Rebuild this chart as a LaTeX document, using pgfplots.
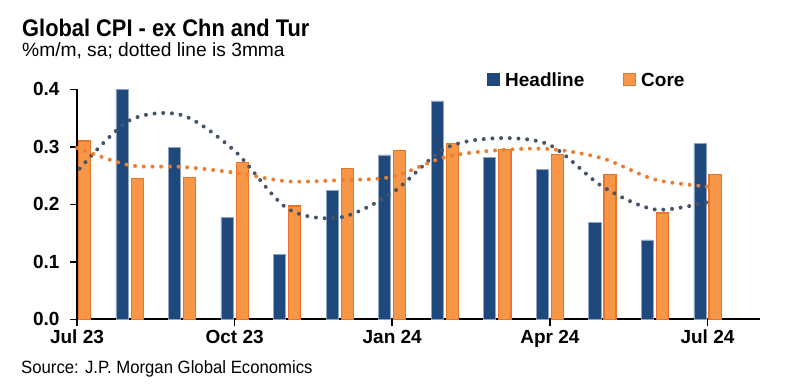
\documentclass[border=0pt]{standalone}
\usepackage{fontspec}
\setmainfont{Liberation Sans}
\usepackage{pgfplots}
\pgfplotsset{compat=1.18}
\definecolor{hblue}{RGB}{31,73,125}
\definecolor{corg}{RGB}{247,150,70}
\definecolor{corgd}{RGB}{233,118,40}
\definecolor{hdot}{RGB}{68,84,106}
\definecolor{cdot}{RGB}{237,125,49}
\begin{document}
\begin{tikzpicture}[x=1bp,y=1bp]
\useasboundingbox (0,0) rectangle (805,383);
\begin{axis}[
  at={(77bp,63.7bp)}, anchor=south west,
  scale only axis, width=683bp, height=230bp,
  xmin=0, xmax=13, ymin=0, ymax=0.4,
  axis x line*=bottom, axis y line*=left,
  axis line style={-, line width=1.8bp, black},
  xtick={0,3,6,9,12},
  xticklabels={Jul 23,Oct 23,Jan 24,Apr 24,Jul 24},
  ytick={0,0.1,0.2,0.3,0.4},
  /pgf/number format/assume math mode=true,
  yticklabel style={/pgf/number format/.cd, fixed, fixed zerofill, precision=1, /tikz/.cd, xshift=-7bp},
  tick label style={font=\fontsize{19bp}{22bp}\selectfont\bfseries},
  tick align=outside, major tick length=7bp,
  tick style={black, line width=1.5bp},
  clip=false,
]
\addplot[ybar, bar width=0.23, bar shift=-0.145, fill=hblue, draw=hblue!50!white, line width=0.5bp]
  coordinates {(1,0.400) (2,0.299) (3,0.177) (4,0.113) (5,0.224) (6,0.286) (7,0.380) (8,0.282) (9,0.261) (10,0.169) (11,0.138) (12,0.306)};
\addplot[ybar, bar width=0.23, bar shift=0.145, fill=corg, draw=corgd, line width=1.2bp]
  coordinates {(0,0.310) (1,0.245) (2,0.247) (3,0.273) (4,0.197) (5,0.262) (6,0.293) (7,0.306) (8,0.295) (9,0.287) (10,0.252) (11,0.185) (12,0.252)};
\addplot[hdot, line width=4bp, dash pattern=on 0bp off 8.7bp, line cap=round, smooth]
  coordinates {(0.05,0.262) (1,0.346) (2,0.355) (3,0.293) (4,0.193) (5,0.177) (6,0.220) (7,0.297) (8,0.315) (9,0.303) (10,0.231) (11,0.191) (12,0.204)};
\addplot[cdot, line width=4bp, dash pattern=on 0bp off 8.7bp, line cap=round, smooth]
  coordinates {(0,0.298) (1,0.268) (2,0.265) (3,0.255) (4,0.240) (5,0.242) (6,0.248) (7,0.282) (8,0.294) (9,0.296) (10,0.280) (11,0.243) (12,0.231)};
\end{axis}
\node[anchor=base west, inner sep=0] at (22,347) {\scalebox{0.91}[1]{\fontsize{24bp}{28bp}\selectfont\bfseries Global CPI - ex Chn and Tur}};
\node[anchor=base west, inner sep=0] at (22,327) {\fontsize{19.2bp}{23bp}\selectfont \%m/m, sa; dotted line is 3mma};
\node[anchor=base west, inner sep=0] at (21,10) {\scalebox{0.94}[1]{\fontsize{17.8bp}{21bp}\selectfont Source: J.P. Morgan Global Economics}};
\fill[hblue] (487,297.3) rectangle (499.5,310.3);
\node[anchor=base west, inner sep=0] at (505,297) {\fontsize{19bp}{23bp}\selectfont\bfseries Headline};
\filldraw[fill=corg, draw=corgd, line width=1.2bp] (623.3,297.9) rectangle (635.5,309.7);
\node[anchor=base west, inner sep=0] at (641,297) {\fontsize{19bp}{23bp}\selectfont\bfseries Core};
\end{tikzpicture}
\end{document}
